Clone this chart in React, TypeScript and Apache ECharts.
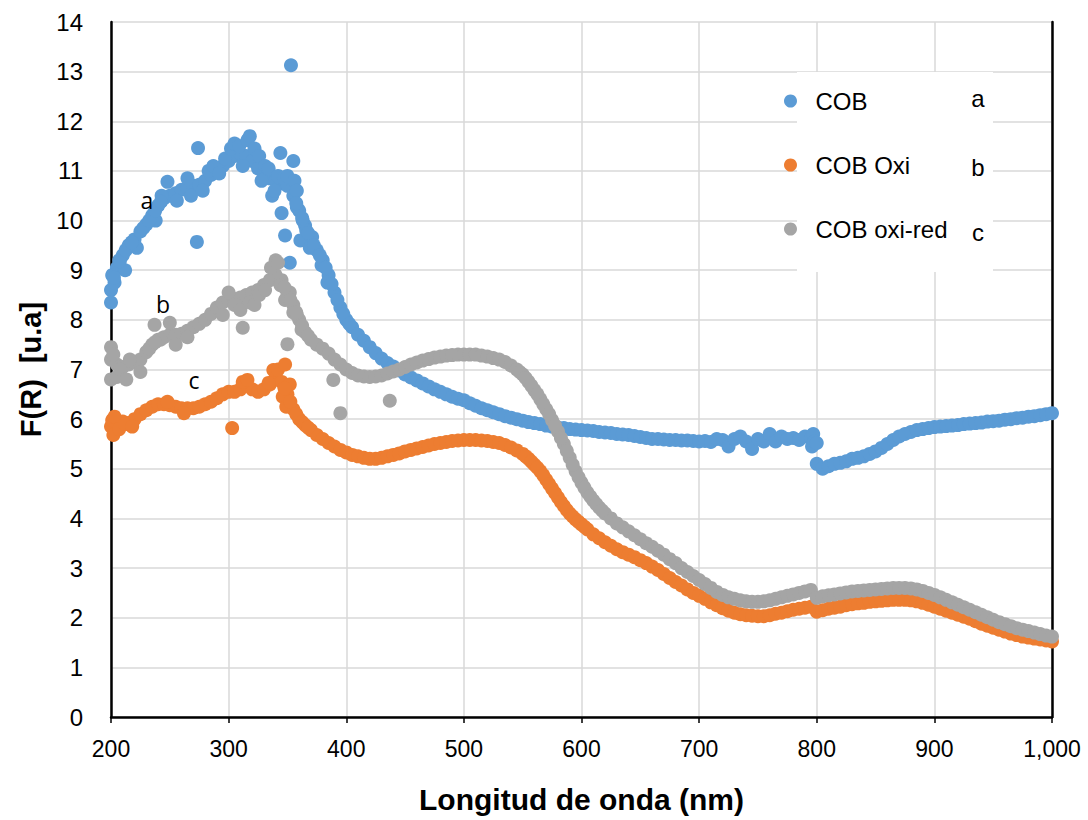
import React, { useEffect, useRef } from "react";
import * as echarts from "echarts";

const WAVELENGTHS = [
  200, 205, 210, 215, 220, 225, 230, 235, 240, 245, 250, 255, 260, 265, 270, 275, 280, 285, 290, 295,
  300, 305, 310, 315, 320, 325, 330, 335, 340, 345, 350, 355, 360, 365, 370, 375, 380, 385, 390, 395,
  400, 405, 410, 415, 420, 425, 430, 435, 440, 445, 450, 455, 460, 465, 470, 475, 480, 485, 490, 495,
  500, 505, 510, 515, 520, 525, 530, 535, 540, 545, 550, 555, 560, 565, 570, 575, 580, 585, 590, 595,
  600, 605, 610, 615, 620, 625, 630, 635, 640, 645, 650, 655, 660, 665, 670, 675, 680, 685, 690, 695,
  700, 705, 710, 715, 720, 725, 730, 735, 740, 745, 750, 755, 760, 765, 770, 775, 780, 785, 790, 795,
  800, 805, 810, 815, 820, 825, 830, 835, 840, 845, 850, 855, 860, 865, 870, 875, 880, 885, 890, 895,
  900, 905, 910, 915, 920, 925, 930, 935, 940, 945, 950, 955, 960, 965, 970, 975, 980, 985, 990, 995,
  1000,
];

const COB = [
  8.6, 9.05, 9.3, 9.5, 9.62, 9.78, 9.92, 10.1, 10.3, 10.45, 10.5, 10.55, 10.62, 10.66, 10.7, 10.72, 10.8, 10.92, 11.0, 11.1,
  11.2, 11.3, 11.35, 11.3, 11.2, 11.05, 10.95, 10.85, 10.8, 10.75, 10.7, 10.5, 10.2, 9.9, 9.6, 9.4, 9.2, 8.9, 8.55, 8.25,
  8.0, 7.85, 7.7, 7.58, 7.45, 7.33, 7.22, 7.13, 7.06, 6.98, 6.9, 6.84, 6.78, 6.72, 6.66, 6.6, 6.55, 6.5, 6.45, 6.41,
  6.38, 6.32, 6.27, 6.22, 6.18, 6.14, 6.1, 6.06, 6.03, 6.0, 5.97, 5.94, 5.92, 5.9, 5.87, 5.85, 5.83, 5.82, 5.8, 5.79,
  5.78, 5.77, 5.76, 5.74, 5.73, 5.72, 5.7, 5.69, 5.68, 5.66, 5.64, 5.62, 5.6, 5.6, 5.59, 5.58, 5.58, 5.57, 5.57, 5.56,
  5.55, 5.56, 5.54, 5.6, 5.58, 5.45, 5.6, 5.65, 5.55, 5.4, 5.6, 5.55, 5.7, 5.55, 5.65, 5.6, 5.62, 5.58, 5.65, 5.62,
  5.1, 5.0, 5.05, 5.1, 5.12, 5.15, 5.2, 5.22, 5.25, 5.3, 5.35, 5.42, 5.5, 5.58, 5.65, 5.7, 5.74, 5.78, 5.8, 5.82,
  5.84, 5.85, 5.86, 5.87, 5.88, 5.9, 5.91, 5.92, 5.93, 5.95, 5.96, 5.97, 5.99, 6.0, 6.02, 6.03, 6.05, 6.06, 6.08, 6.1,
  6.12,
];

const COB_OXI = [
  5.85, 5.92, 5.95, 5.92, 6.0, 6.1, 6.18, 6.25, 6.3, 6.3, 6.28, 6.25, 6.22, 6.22, 6.22, 6.25, 6.3, 6.35, 6.42, 6.5,
  6.55, 6.55, 6.6, 6.7, 6.6, 6.55, 6.6, 6.7, 6.85, 6.75, 6.5, 6.2, 6.0, 5.88, 5.78, 5.68, 5.6, 5.52, 5.45, 5.38,
  5.33, 5.28, 5.25, 5.22, 5.2, 5.2, 5.22, 5.25, 5.28, 5.31, 5.35, 5.38, 5.41, 5.44, 5.47, 5.5, 5.52, 5.54, 5.56, 5.57,
  5.58, 5.58, 5.58, 5.57, 5.56, 5.54, 5.52, 5.48, 5.43, 5.37, 5.3, 5.2, 5.08, 4.95, 4.78, 4.6, 4.42, 4.25, 4.1, 3.98,
  3.88, 3.78, 3.68, 3.6, 3.52, 3.45, 3.38, 3.32, 3.27, 3.22, 3.16, 3.1, 3.03, 2.96, 2.88, 2.8, 2.72, 2.65, 2.57, 2.5,
  2.44, 2.38, 2.31, 2.25, 2.19, 2.14, 2.1, 2.07, 2.05, 2.04, 2.03, 2.03, 2.05, 2.08, 2.1, 2.13, 2.16, 2.18, 2.2, 2.22,
  2.12, 2.15, 2.18, 2.2, 2.22, 2.25, 2.27, 2.29, 2.3, 2.32, 2.33, 2.34, 2.35, 2.36, 2.36, 2.36, 2.35, 2.33, 2.3, 2.26,
  2.22, 2.18, 2.14, 2.1, 2.06, 2.02, 1.98, 1.93, 1.88, 1.84, 1.8, 1.76, 1.72, 1.68, 1.65, 1.62, 1.6, 1.58, 1.56, 1.54,
  1.52,
];

const COB_OXI_RED = [
  7.2, 7.1, 7.05, 7.1, 7.15, 7.2, 7.35, 7.5, 7.6, 7.65, 7.7, 7.7, 7.72, 7.78, 7.85, 7.92, 8.0, 8.12, 8.25, 8.35,
  8.4, 8.42, 8.45, 8.5, 8.55, 8.6, 8.7, 8.8, 8.9, 8.8, 8.5, 8.3, 8.0, 7.75, 7.6, 7.5, 7.42, 7.32, 7.2, 7.1,
  7.0, 6.93, 6.88, 6.86, 6.85, 6.86, 6.88, 6.92, 6.96, 7.0, 7.05, 7.1, 7.14, 7.18, 7.21, 7.24, 7.26, 7.28, 7.29, 7.3,
  7.3, 7.3, 7.3, 7.28, 7.26, 7.23, 7.2, 7.15, 7.08, 7.0, 6.9, 6.75, 6.58, 6.4, 6.2, 5.98, 5.75, 5.5, 5.22, 4.95,
  4.72, 4.52, 4.36, 4.22, 4.1, 4.0, 3.9, 3.82, 3.74, 3.66, 3.58, 3.5, 3.43, 3.35, 3.27, 3.18, 3.1, 3.0, 2.92, 2.84,
  2.76, 2.68, 2.6, 2.52, 2.46, 2.41, 2.38, 2.35, 2.33, 2.32, 2.32, 2.33, 2.35, 2.38, 2.41, 2.44, 2.47, 2.5, 2.53, 2.56,
  2.4, 2.43, 2.45, 2.47, 2.49, 2.51, 2.53, 2.54, 2.55, 2.56, 2.57, 2.58, 2.59, 2.6, 2.6, 2.6, 2.59, 2.57, 2.54, 2.5,
  2.46, 2.41, 2.36, 2.31, 2.26, 2.21, 2.16, 2.11, 2.06, 2.01, 1.96, 1.91, 1.87, 1.83, 1.79, 1.76, 1.73, 1.7, 1.67, 1.64,
  1.62,
];

// extra readings (wavelength, value): scattered points and steep stretches
const COB_EXTRA = [
  [200, 8.35], [201, 8.9], [203, 8.75], [207, 9.2], [212, 9.0], [222, 9.45], [238, 10.0], [243, 10.5],
  [248, 10.78], [256, 10.4], [265, 10.85], [268, 10.5], [273, 9.57], [274, 11.46], [278, 10.6], [283, 11.0],
  [287, 11.1], [292, 10.95], [297, 11.25], [302, 11.45], [305, 11.55], [309, 11.5], [312, 11.1], [316, 11.62],
  [318, 11.7], [322, 11.45], [326, 11.3], [328, 10.8], [331, 11.1], [334, 11.05], [337, 10.5], [339, 10.6],
  [342, 10.9], [344, 11.36], [345, 10.15], [347, 10.85], [348, 9.7], [350, 10.9], [352, 9.15], [353, 13.13],
  [355, 11.2], [356, 10.8], [358, 10.27], [358, 10.6], [361, 9.6], [363, 10.0], [366, 9.8], [369, 9.45],
  [371, 9.67], [379, 9.1], [384, 8.75], [796, 5.45], [797, 5.7], [798, 5.55], [800, 5.52],
  [202.5, 8.85], [207.5, 9.18], [212.5, 9.4], [217.5, 9.56], [227.5, 9.85], [232.5, 10.0], [237.5, 10.2],
  [242.5, 10.38], [357.5, 10.35], [362.5, 10.05], [367.5, 9.75], [372.5, 9.5], [377.5, 9.3], [382.5, 9.05],
  [387.5, 8.72], [392.5, 8.4], [397.5, 8.12], [402.5, 7.92],
];

const COB_OXI_EXTRA = [
  [201, 5.98], [202, 5.68], [203, 6.05], [207, 5.8], [212, 5.9], [218, 5.85], [248, 6.35], [262, 6.12],
  [303, 5.82], [312, 6.75], [316, 6.79], [334, 6.73], [338, 6.99], [342, 7.0], [346, 6.45], [348, 7.1],
  [349, 6.25], [352, 6.7],
  [347.5, 6.62], [352.5, 6.35], [357.5, 6.1], [362.5, 5.94], [367.5, 5.83],
  [552.5, 5.25], [557.5, 5.14], [562.5, 5.02], [567.5, 4.87], [572.5, 4.69], [577.5, 4.51], [582.5, 4.33],
  [587.5, 4.17], [592.5, 4.04], [597.5, 3.93], [602.5, 3.83],
];

const COB_OXI_RED_EXTRA = [
  [200, 7.45], [200, 6.8], [202, 7.3], [205, 6.85], [208, 7.0], [213, 6.8], [216, 7.2], [225, 6.95],
  [237, 7.9], [250, 7.94], [242, 7.6], [255, 7.5], [265, 7.65], [295, 8.1], [300, 8.55], [305, 8.3],
  [310, 8.2], [312, 7.84], [318, 8.35], [322, 8.3], [326, 8.5], [331, 8.6], [336, 9.05], [340, 9.2],
  [342, 9.15], [344, 8.7], [348, 8.4], [350, 7.51], [352, 8.55], [355, 8.15], [358, 8.1], [362, 7.8],
  [389, 6.79], [395, 6.12], [437, 6.37],
  [232.5, 7.42], [237.5, 7.55], [347.5, 8.65], [352.5, 8.4], [357.5, 8.15], [362.5, 7.88], [367.5, 7.68],
  [547.5, 6.95], [552.5, 6.83], [557.5, 6.67], [562.5, 6.5], [567.5, 6.3], [572.5, 6.1], [577.5, 5.87],
  [582.5, 5.62], [587.5, 5.36], [592.5, 5.08], [597.5, 4.83], [602.5, 4.62], [607.5, 4.44], [612.5, 4.29],
  [617.5, 4.16],
];

const SERIES_NAMES = ["COB", "COB Oxi", "COB oxi-red"];
const SERIES_LETTERS = ["a", "b", "c"];
const COLORS = ["#5B9BD5", "#ED7D31", "#A5A5A5"];

const X_TITLE = "Longitud de onda (nm)";
const Y_TITLE = "F(R)  [u.a]";

const FONT = "'Liberation Sans', Arial, sans-serif";

function buildData(values: number[], extra: number[][]) {
  const d: number[][] = WAVELENGTHS.map((w, i) => [w, values[i]]);
  return d.concat(extra);
}

export default function App() {
  const ref = useRef<HTMLDivElement>(null);
  useEffect(() => {
    if (!ref.current) return;
    const chart = echarts.init(ref.current, undefined, { renderer: "svg" });
    const sets = [
      buildData(COB, COB_EXTRA),
      buildData(COB_OXI, COB_OXI_EXTRA),
      buildData(COB_OXI_RED, COB_OXI_RED_EXTRA),
    ];
    chart.setOption({
      animation: false,
      backgroundColor: "#ffffff",
      grid: { left: 111, right: 36, top: 22, bottom: 103, containLabel: false },
      xAxis: {
        type: "value",
        min: 200,
        max: 1000,
        interval: 100,
        name: X_TITLE,
        nameLocation: "middle",
        nameGap: 67,
        nameTextStyle: { fontFamily: FONT, fontSize: 30, fontWeight: "bold", color: "#000" },
        axisLine: { show: true, onZero: false, lineStyle: { color: "#000", width: 2.5 } },
        axisTick: { show: true, length: 6, lineStyle: { color: "#000", width: 1.5 } },
        axisLabel: {
          fontFamily: FONT,
          fontSize: 23,
          color: "#000",
          margin: 20,
          formatter: (v: number) => (v >= 1000 ? v.toLocaleString("en-US") : String(v)),
        },
        splitLine: { show: true, lineStyle: { color: "#D9D9D9", width: 1.5 } },
      },
      yAxis: [
        {
          type: "value",
          min: 0,
          max: 14,
          interval: 1,
          name: Y_TITLE,
          nameLocation: "middle",
          nameGap: 66,
          nameTextStyle: { fontFamily: FONT, fontSize: 29, fontWeight: "bold", color: "#000" },
          axisLine: { show: true, onZero: false, lineStyle: { color: "#000", width: 2.5 } },
          axisTick: { show: false },
          axisLabel: { fontFamily: FONT, fontSize: 24, color: "#000", margin: 28 },
          splitLine: { show: true, lineStyle: { color: "#D9D9D9", width: 1.5 } },
        },
        {
          type: "value",
          min: 0,
          max: 14,
          interval: 1,
          position: "right",
          axisLine: { show: true, onZero: false, lineStyle: { color: "#000", width: 2.5 } },
          axisTick: { show: false },
          axisLabel: { show: false },
          splitLine: { show: false },
        },
      ],
      legend: {
        orient: "vertical",
        left: 779,
        top: 84,
        itemWidth: 40,
        itemHeight: 13,
        itemGap: 40,
        icon: "circle",
        data: SERIES_NAMES,
        textStyle: { fontFamily: FONT, fontSize: 24, color: "#000" },
      },
      graphic: [
        {
          type: "rect",
          z: 1,
          shape: { x: 797, y: 72, width: 196, height: 200 },
          style: { fill: "#ffffff" },
        },
        ...SERIES_LETTERS.map((t, i) => ({
          type: "text",
          z: 5,
          x: 978,
          y: [98, 167, 232][i],
          style: {
            text: t,
            fontFamily: FONT,
            fontSize: 24,
            fill: "#000",
            textAlign: "center",
            textVerticalAlign: "middle",
          },
        })),
        ...SERIES_LETTERS.map((t, i) => ({
          type: "text",
          z: 5,
          x: [147, 163, 194][i],
          y: [200, 304, 380][i],
          style: {
            text: t,
            fontFamily: "'Open Sans', 'Liberation Sans', sans-serif",
            fontSize: 23,
            fill: "#000",
            textAlign: "center",
            textVerticalAlign: "middle",
          },
        })),
      ],
      series: sets.map((data, i) => ({
        name: SERIES_NAMES[i],
        type: "scatter",
        data,
        symbol: "circle",
        symbolSize: 14,
        itemStyle: { color: COLORS[i], opacity: 1 },
        emphasis: { disabled: true },
      })),
    });
    return () => chart.dispose();
  }, []);
  return (
    <div
      ref={ref}
      style={{ position: "fixed", left: 0, top: 0, width: 1088, height: 820, background: "#fff" }}
    />
  );
}
